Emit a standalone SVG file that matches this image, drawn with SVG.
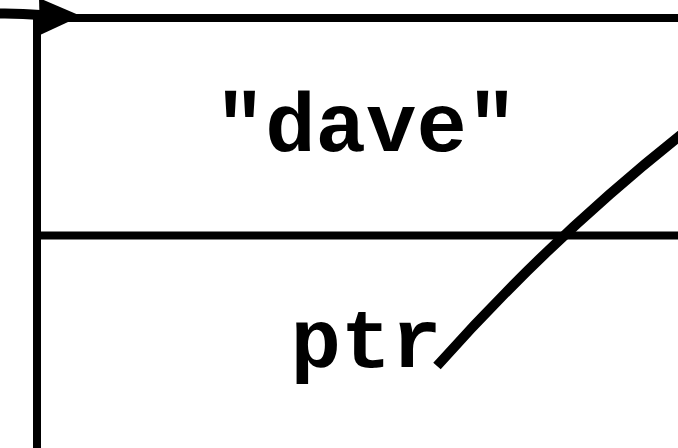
<svg xmlns="http://www.w3.org/2000/svg" width="678" height="448" viewBox="0 0 678 448">
<style>
.ln{fill:none;stroke:#000;stroke-width:8}
.cn{fill:none;stroke:#000;stroke-width:10}
.lbl{font-family:"Liberation Mono","Courier New",monospace;font-weight:bold;font-size:84px;fill:#000;text-anchor:middle}
</style>
<rect width="678" height="448" fill="#fff"/>
<g id="node-struct">
<rect class="ln" x="37" y="18" width="700" height="500"/>
<line class="ln" x1="37" y1="235.5" x2="700" y2="235.5"/>
<text class="lbl" x="366" y="151">"dave"</text>
<text class="lbl" x="366" y="367">ptr</text>
</g>
<g id="connectors">
<path class="cn" d="M-5,13.5 Q20,13 40,15 L70,17"/>
<polygon points="39,-2 81,16 40,35" fill="#000"/>
<path class="cn" d="M437,366 Q560,228 700,120"/>
</g>
</svg>
